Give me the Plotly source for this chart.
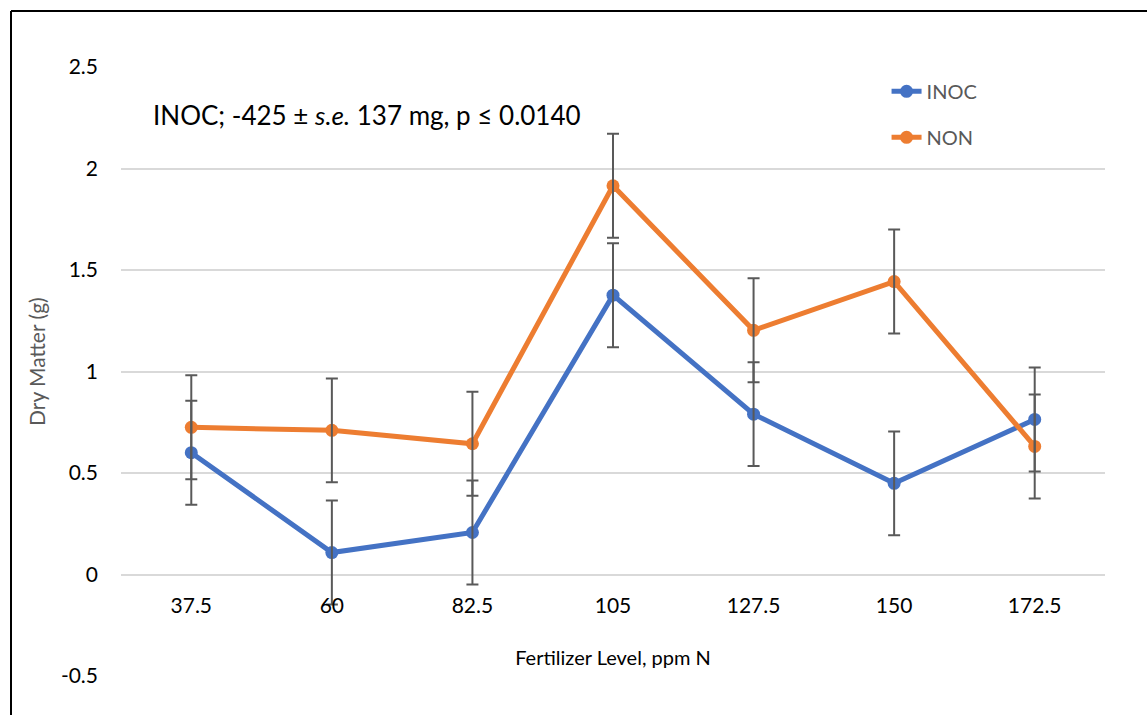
import plotly.graph_objects as go

# Fertilizer levels (ppm N) and mean dry matter (g) per treatment
levels = ["37.5", "60", "82.5", "105", "127.5", "150", "172.5"]
inoc = [0.60, 0.108, 0.207, 1.376, 0.790, 0.449, 0.764]
non = [0.725, 0.710, 0.644, 1.915, 1.203, 1.443, 0.631]
# standard error of the mean for each point
inoc_se = [0.256, 0.256, 0.256, 0.256, 0.256, 0.256, 0.256]
non_se = [0.256, 0.256, 0.256, 0.256, 0.256, 0.256, 0.256]

BLUE = "#4472C4"
ORANGE = "#ED7D31"
ERR = "#595959"
FONT = "Lato"

fig = go.Figure()

for name, vals, color in [("INOC", inoc, BLUE), ("NON", non, ORANGE)]:
    fig.add_trace(go.Scatter(
        x=levels, y=vals, name=name, mode="lines+markers",
        legendgroup=name,
        line=dict(color=color, width=5),
        marker=dict(color=color, size=13),
    ))

# error bars drawn above the lines
for vals, se in [(inoc, inoc_se), (non, non_se)]:
    fig.add_trace(go.Scatter(
        x=levels, y=vals, mode="markers", showlegend=False, hoverinfo="skip",
        marker=dict(size=1, opacity=0),
        error_y=dict(type="data", array=se, visible=True,
                     color=ERR, thickness=2, width=6),
    ))

fig.update_layout(
    width=1147, height=715,
    margin=dict(l=121, r=42, t=67, b=39),
    paper_bgcolor="white", plot_bgcolor="white",
    font=dict(family=FONT, size=21, color="#000000"),
    showlegend=True,
    legend=dict(x=0.778, y=0.992, xanchor="left", yanchor="top",
                font=dict(family=FONT, size=20, color="#595959"),
                bgcolor="rgba(0,0,0,0)", tracegroupgap=17),
    xaxis=dict(
        type="category", range=[-0.5, 6.5],
        showgrid=False, zeroline=False, showline=False, ticks="",
        anchor="free", position=102 / 609,
        ticklabelstandoff=17,
        tickfont=dict(family=FONT, size=21, color="#000000"),
        title=dict(text="Fertilizer Level, ppm N", standoff=34,
                   font=dict(family=FONT, size=20, color="#000000")),
    ),
    yaxis=dict(
        range=[-0.5, 2.5], tickvals=[-0.5, 0, 0.5, 1, 1.5, 2, 2.5],
        ticktext=["-0.5", "0", "0.5", "1", "1.5", "2", "2.5"],
        showgrid=True, gridcolor="#D9D9D9", gridwidth=2,
        zeroline=False, showline=False, ticks="",
        ticklabelstandoff=22,
        tickfont=dict(family=FONT, size=21, color="#000000"),
    ),
)

fig.add_annotation(
    text="Dry Matter (g)", textangle=-90,
    xref="paper", yref="paper", x=(36 - 121) / 984, y=(676 - 362) / 609,
    xanchor="center", yanchor="middle", showarrow=False,
    font=dict(family=FONT, size=21, color="#595959"),
)

fig.add_annotation(
    text="INOC; -425 ± <i>s.e.</i> 137 mg, p ≤ 0.0140",
    xref="paper", yref="paper", x=(151 - 121) / 984, y=(676 - 115) / 609,
    xanchor="left", yanchor="middle", showarrow=False,
    font=dict(family=FONT, size=26, color="#000000"),
)

# chart frame: top and left border lines
fig.add_shape(type="line", xref="paper", yref="paper",
              x0=(11 - 121) / 984, x1=(1150 - 121) / 984,
              y0=(676 - 11) / 609, y1=(676 - 11) / 609,
              line=dict(color="#000000", width=2))
fig.add_shape(type="line", xref="paper", yref="paper",
              x0=(11 - 121) / 984, x1=(11 - 121) / 984,
              y0=(676 - 11) / 609, y1=(676 - 720) / 609,
              line=dict(color="#000000", width=2))

fig.write_html("out.html")
